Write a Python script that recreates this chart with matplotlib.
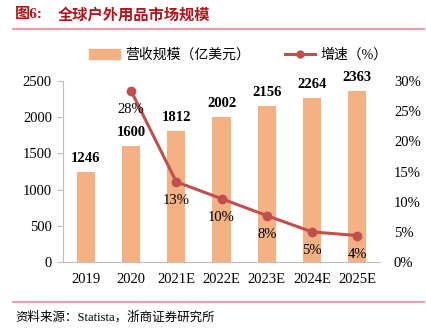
import matplotlib
matplotlib.use('Agg')
import matplotlib.pyplot as plt
from matplotlib.lines import Line2D

plt.rcParams['font.family'] = ['Liberation Serif', 'Noto Sans CJK SC']

# data
years = ['2019', '2020', '2021E', '2022E', '2023E', '2024E', '2025E']
revenue = [1246, 1600, 1812, 2002, 2156, 2264, 2363]
growth = [None, 28.4, 13.3, 10.5, 7.7, 5.0, 4.4]
growth_labels = ['', '28%', '13%', '10%', '8%', '5%', '4%']

bar_color = '#F4B183'
line_color = '#C0504D'
title_red = '#B0141C'

fig = plt.figure(figsize=(4.26, 3.28), dpi=100)
ax = fig.add_axes([0.148, 0.201, 0.744, 0.552])
x = list(range(len(years)))

ax.bar(x, revenue, width=0.4, color=bar_color, zorder=2)
for xi, v in zip(x, revenue):
    ax.annotate(str(v), (xi, v), xytext=(0, 5), textcoords='offset points',
                ha='center', va='bottom', fontsize=10.5, fontweight='bold')

ax.set_xlim(-0.5, 6.5)
ax.set_ylim(0, 2500)
ax.set_yticks(range(0, 2501, 500))
ax.set_xticks(x)
ax.set_xticklabels(years)
ax.tick_params(axis='x', length=0, labelsize=10.5, pad=8)
ax.tick_params(axis='y', length=4, color='#BFBFBF', labelsize=10.5, pad=4)
for s in ['top', 'right']:
    ax.spines[s].set_visible(False)
ax.spines['left'].set_color('#BFBFBF')
ax.spines['bottom'].set_color('#BFBFBF')

ax2 = ax.twinx()
gx = [xi for xi, g in zip(x, growth) if g is not None]
gy = [g for g in growth if g is not None]
ax2.plot(gx, gy, color=line_color, lw=2.2, marker='o', ms=6, zorder=3)
for xi, g, lab in zip(x, growth, growth_labels):
    if g is None:
        continue
    ax2.annotate(lab, (xi, g), xytext=(0, -9), textcoords='offset points',
                 ha='center', va='top', fontsize=10.5)
ax2.set_ylim(0, 30)
ax2.set_yticks(range(0, 31, 5))
ax2.set_yticklabels([f'{t}%' for t in range(0, 31, 5)])
ax2.tick_params(axis='y', length=0, labelsize=10.5, pad=10)
for s in ['top', 'right', 'left', 'bottom']:
    ax2.spines[s].set_visible(False)

handles = [plt.Rectangle((0, 0), 1, 1, color=bar_color),
           Line2D([0], [0], color=line_color, lw=2.2, marker='o', ms=5)]
fig.legend(handles, ['营收规模（亿美元）', '增速（%）'], loc='center',
           bbox_to_anchor=(0.56, 0.833), ncol=2, frameon=False, fontsize=10,
           handlelength=2.2, columnspacing=2.5, handletextpad=0.4)

fig.text(0.035, 0.955, '图6:', color=title_red, fontsize=11, fontweight='bold',
         ha='left', va='center')
fig.text(0.135, 0.955, '全球户外用品市场规模', color=title_red, fontsize=11,
         fontweight='bold', ha='left', va='center')
fig.add_artist(Line2D([0.03, 0.995], [0.912, 0.912], color='#E8A0A4', lw=1.5))
fig.add_artist(Line2D([0.03, 0.995], [0.079, 0.079], color='#E8A0A4', lw=1.5))
fig.text(0.035, 0.033, '资料来源：Statista，浙商证券研究所', fontsize=9,
         ha='left', va='center')

fig.savefig('out.png', dpi=100)
